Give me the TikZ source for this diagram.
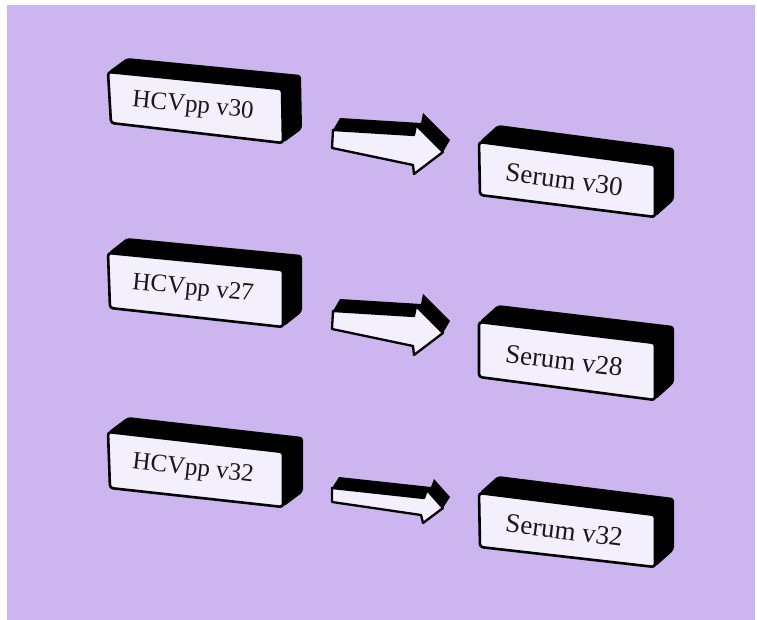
\documentclass[tikz,border=0pt]{standalone}
\usepackage{fontspec}
\setmainfont{Liberation Serif}
\usetikzlibrary{calc}

\definecolor{bgpurple}{RGB}{205,182,240}
\definecolor{facefill}{RGB}{244,239,252}

\tikzset{
  darkside/.style={fill=black, rounded corners=3pt, line join=round},
  frontface/.style={draw=black, fill=facefill, line width=2.6pt, rounded corners=3pt, line join=round},
  arrowface/.style={draw=black, fill=facefill, line width=2.3pt, line join=round},
  boxlabel/.style={inner sep=0pt, text=black!90, xshift=-3pt}
}

% solid block: name, front corners TL TR BR BL, depth vector, font size, label
\newcommand\solidbox[8]{%
  \coordinate (#1-tl) at (#2);
  \coordinate (#1-tr) at (#3);
  \coordinate (#1-br) at (#4);
  \coordinate (#1-bl) at (#5);
  \fill[darkside] (#1-tl) -- ($(#1-tl)+(#6)$) -- ($(#1-tr)+(#6)$) -- ($(#1-br)+(#6)$)
        -- (#1-br) -- (#1-tr) -- cycle;
  \draw[frontface] (#1-tl) -- (#1-tr) -- (#1-br) -- (#1-bl) -- cycle;
  \path let \p1=($(#1-tr)-(#1-tl)$) in
    node[boxlabel, font=\fontsize{#7}{#7}\selectfont, rotate={atan2(\y1,\x1)}] (#1)
      at (barycentric cs:#1-tl=1,#1-tr=1,#1-br=1,#1-bl=1) {#8};
}

% extruded block arrow: name, tail top, shaft top at head, head top, tip,
% head bottom, shaft bottom at head, tail bottom, depth vector
\newcommand\blockarrow[9]{%
  \coordinate (#1-tl) at (#2);
  \coordinate (#1-st) at (#3);
  \coordinate (#1-ht) at (#4);
  \coordinate (#1-tip) at (#5);
  \coordinate (#1-hb) at (#6);
  \coordinate (#1-sb) at (#7);
  \coordinate (#1-bl) at (#8);
  \fill[black, line join=round] (#1-tl) -- ($(#1-tl)+(#9)$) -- ($(#1-st)+(#9)$) -- ($(#1-ht)+(#9)$)
        -- ($(#1-tip)+(#9)$) -- (#1-tip) -- (#1-ht) -- (#1-st) -- cycle;
  \draw[arrowface] (#1-tl) -- (#1-st) -- (#1-ht) -- (#1-tip) -- (#1-hb) -- (#1-sb) -- (#1-bl) -- cycle;
}

\begin{document}
\begin{tikzpicture}[x=1pt, y=-1pt]
  \useasboundingbox (0,0) rectangle (757,620);
  \fill[white] (0,0) rectangle (757,620);
  \fill[bgpurple] (7,5) rectangle (755,620);

  % left column
  \solidbox{hcv30}{108,72}{282,89}{283,143}{111,123}{19,-14}{25}{HCVpp v30}
  \solidbox{hcv27}{108,253}{283,270}{283,327}{110,308}{19,-15}{25}{HCVpp v27}
  \solidbox{hcv32}{108,432}{283,452}{283,507}{110,488}{20,-15}{25}{HCVpp v32}

  % right column
  \solidbox{ser30}{479,142}{655,165}{655,217}{480,195}{19,-17}{27}{Serum v30}
  \solidbox{ser28}{479,322}{655,343}{655,400}{479,377}{19,-17}{27}{Serum v28}
  \solidbox{ser32}{479,493}{655,515}{655,567}{480,547}{19,-17}{27}{Serum v32}

  % arrows between the columns
  \blockarrow{arr1}{333,130}{414,135}{416,125}{443,152}{414,174}{413,165}{332,148}{7,-12}
  \blockarrow{arr2}{333,311}{414,316}{416,306}{443,333}{414,355}{413,346}{332,329}{7,-12}
  \blockarrow{arr3}{332,488}{424,498}{427,490}{443,508}{423,523}{421,515}{332,502}{7,-11}
\end{tikzpicture}
\end{document}
